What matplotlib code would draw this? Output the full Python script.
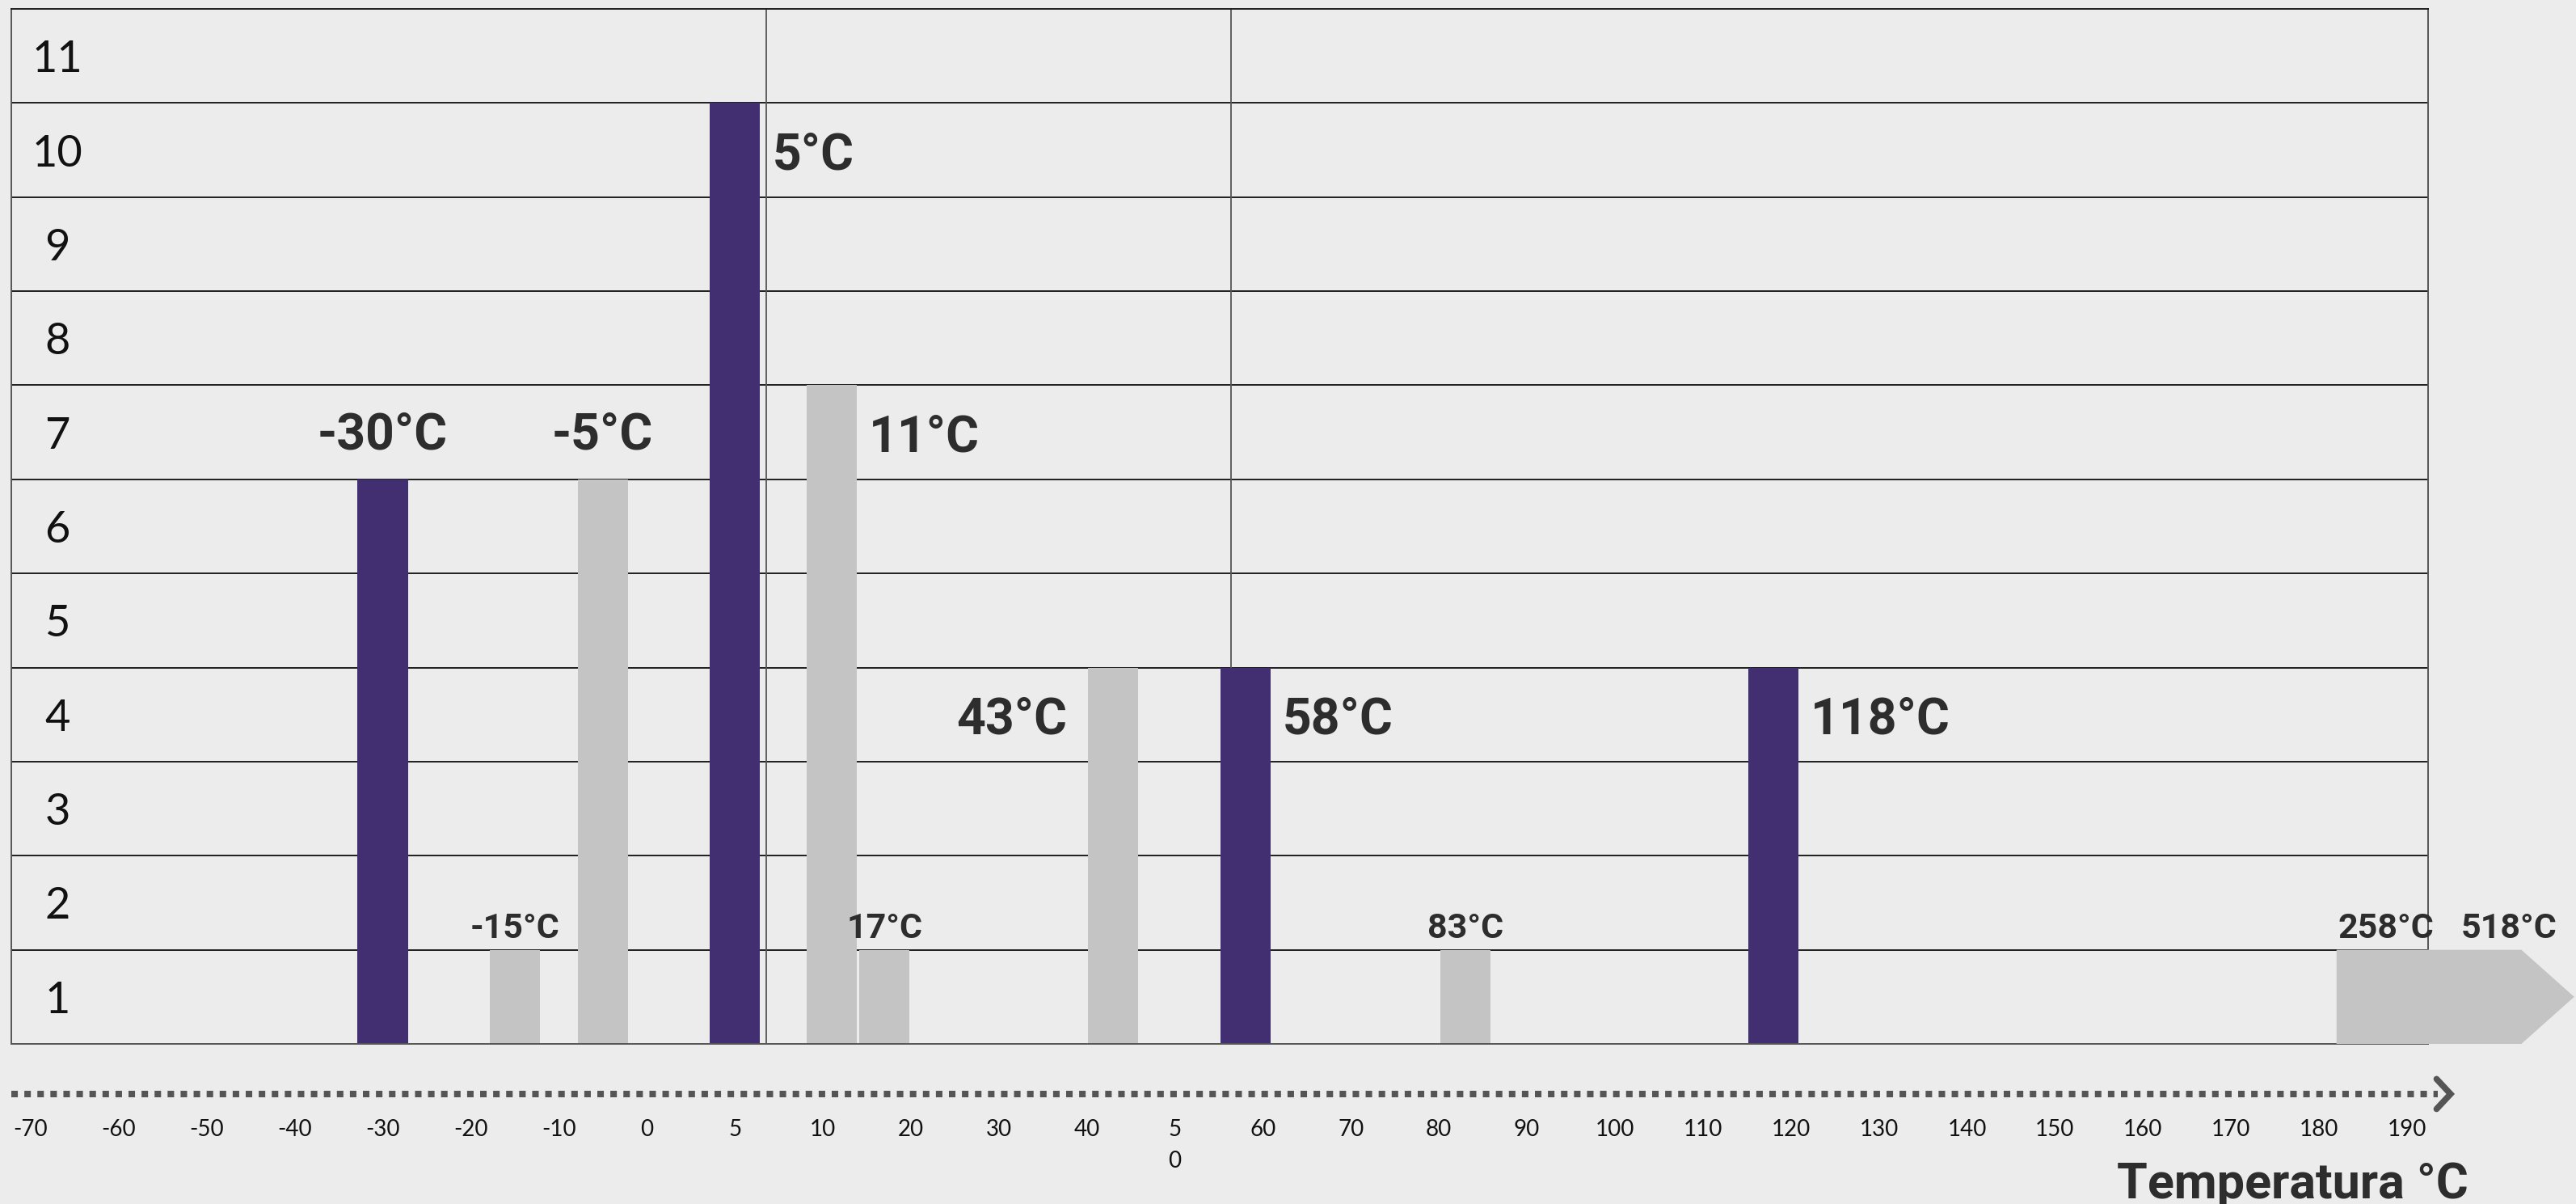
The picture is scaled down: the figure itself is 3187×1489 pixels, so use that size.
import numpy as np
import matplotlib
matplotlib.use("Agg")
import matplotlib.pyplot as plt
from matplotlib.patches import Polygon
from matplotlib.lines import Line2D

# ---------------- data ----------------
tick_values = [-70, -60, -50, -40, -30, -20, -10, 0, 5, 10, 20, 30, 40, 50,
               60, 70, 80, 90, 100, 110, 120, 130, 140, 150, 160, 170, 180, 190]
tick_labels = [str(v) for v in tick_values]
tick_labels[tick_values.index(50)] = "5\n0"

temps = [-30, -15, -5, 5, 11, 17, 43, 58, 83, 118]
counts = [6, 1, 6, 10, 7, 1, 4, 4, 1, 4]
highlight = [True, False, False, True, False, False, False, True, False, True]
label_side = ["above", "above", "above", "right", "right", "above",
              "left", "right", "above", "right"]

overflow_labels = ["258°C", "518°C"]
overflow_count = 1
overflow_start = 182

y_levels = list(range(1, 12))

# ---------------- style ----------------
BG = "#ECECEC"
PURPLE = "#412F72"
GREY = "#C4C4C4"
TXT = "#2D2D2D"
DPI = 100
W, H = 3187, 1489
BOLD = ["Roboto", "DejaVu Sans"]
THIN = ["Lato", "DejaVu Sans"]

fig = plt.figure(figsize=(W / DPI, H / DPI), dpi=DPI, facecolor=BG)
ax = fig.add_axes([14 / W, 1 - 1291 / H, 2990 / W, 1280 / H])
ax.set_facecolor(BG)

idx = np.arange(len(tick_values))
pos = np.interp(temps, tick_values, idx)
bar_w = 0.57

ax.set_xlim(-0.22, 27.24)
ax.set_ylim(0, 11)

# grid lines
for lv in y_levels[:-1]:
    ax.axhline(lv, color="#1E1E1E", lw=1.4, zorder=1)
for dp in [8.36, 13.64]:
    ax.axvline(dp, color="#555555", lw=1.3, zorder=1)
for sp in ax.spines.values():
    sp.set_color("#555555")
    sp.set_linewidth(1.4)
ax.spines["top"].set_color("#1E1E1E")

colors = [PURPLE if h else GREY for h in highlight]
ax.bar(pos, counts, width=bar_w, color=colors, zorder=2, linewidth=0)

# labels
for p, c, t, side in zip(pos, counts, temps, label_side):
    txt = f"{t}°C"
    small = c == 1
    fs = 31 if small else 45
    if side == "above":
        ax.annotate(txt, (p, c), xytext=(0, 10.8 if small else 26.6),
                    textcoords="offset points", ha="center", va="baseline",
                    fontsize=fs, fontweight="bold", family=BOLD, color=TXT, zorder=4)
    elif side == "right":
        ax.annotate(txt, (p + bar_w / 2, c - 0.5), xytext=(11, 0),
                    textcoords="offset points", ha="left", va="center_baseline",
                    fontsize=fs, fontweight="bold", family=BOLD, color=TXT, zorder=4)
    else:
        ax.annotate(txt, (p - bar_w / 2, c - 0.5), xytext=(-19, 0),
                    textcoords="offset points", ha="right", va="center_baseline",
                    fontsize=fs, fontweight="bold", family=BOLD, color=TXT, zorder=4)

# overflow arrow bar
x0 = np.interp(overflow_start, tick_values, idx)
body = 2.1
tip = 0.6
poly = Polygon([(x0, 0), (x0, overflow_count), (x0 + body, overflow_count),
                (x0 + body + tip, overflow_count / 2), (x0 + body, 0)],
               closed=True, facecolor=GREY, edgecolor="none", zorder=3, clip_on=False)
ax.add_patch(poly)
for lab, off in zip(overflow_labels, [1.5, 111]):
    ax.annotate(lab, (x0, overflow_count), xytext=(off, 10.8),
                textcoords="offset points", ha="left", va="baseline",
                fontsize=31, fontweight="bold", family=BOLD, color=TXT, zorder=4)

# ticks
ax.set_xticks(idx)
ax.set_xticklabels(tick_labels, fontsize=20, family=THIN, fontweight="normal",
                   color="#111111", linespacing=1.6, va="top")
ax.tick_params(axis="x", length=0, pad=67)
ax.set_yticks([v - 0.5 for v in y_levels])
ax.set_yticklabels([str(v) for v in y_levels], fontsize=39, family=THIN,
                   fontweight="normal", color="#111111", ha="center")
ax.tick_params(axis="y", length=0, pad=-41)

# dotted axis arrow
yl = -0.0484
ax.add_line(Line2D([0.0, 1.004], [yl, yl], transform=ax.transAxes, color="#555555",
                   lw=5.8, linestyle=(0, (1, 1)), clip_on=False, solid_capstyle="butt",
                   dash_capstyle="butt"))
ax.add_line(Line2D([1.0035, 1.0093, 1.0035], [yl + 0.0145, yl, yl - 0.0145],
                   transform=ax.transAxes, color="#555555", lw=5.5,
                   solid_capstyle="round", solid_joinstyle="miter", clip_on=False))

fig.text(3054 / W, 1 - 1482 / H, "Temperatura °C", ha="right", va="baseline",
         fontsize=44, fontweight="bold", family=BOLD, color=TXT)

fig.savefig("out.png", dpi=DPI, facecolor=BG)
